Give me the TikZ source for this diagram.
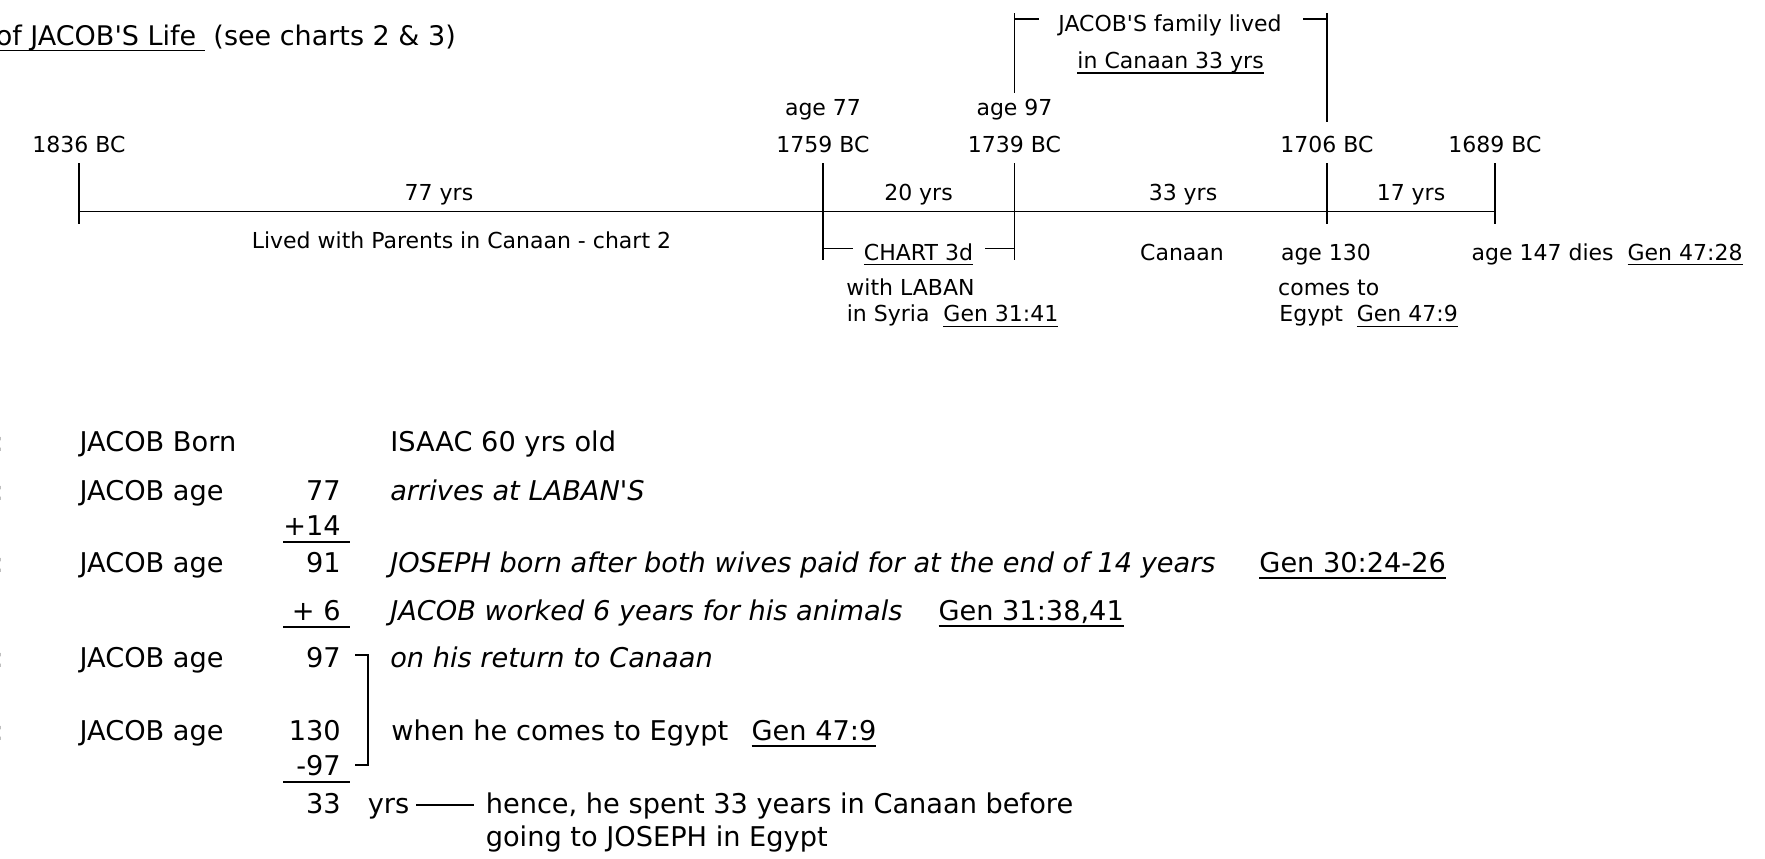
\documentclass[tikz,border=0pt]{standalone}
\usepackage{fontspec}
\setmainfont{DejaVu Sans}
\usetikzlibrary{positioning}
\newsavebox\ulbox
\newcommand\ul[1]{\sbox\ulbox{#1}\rlap{\rule[-0.24em]{\wd\ulbox}{0.06em}}\usebox\ulbox}
\newcommand\q{\textquotesingle}

\begin{document}
\begin{tikzpicture}[x=0.5pt,y=-0.5pt,line width=0.8pt,
  tl/.style={inner sep=0pt,anchor=base,font=\fontsize{11}{13}\selectfont},
  tlw/.style={tl,anchor=base west},
  txt/.style={inner sep=0pt,anchor=base west,font=\fontsize{13.6}{16}\selectfont},
  it/.style={txt,font=\fontsize{13.6}{16}\selectfont\itshape},
  num/.style={txt,anchor=base east}]
\useasboundingbox (0,0) rectangle (1765,858);

\node[txt,font=\fontsize{13.5}{16}\selectfont] (title) at (-5,45) {\ul{of JACOB\q S Life\ } (see charts 2 \& 3)};

\foreach \n/\x in {a/79,b/823,c/1014.5,d/1327,e/1495} \coordinate (\n) at (\x,211.6);
\draw (a) -- (e);
\foreach \n in {a,d,e} \draw (\n) ++(0,-48.6) -- ++(0,61);
\foreach \n in {b,c} \draw (\n) ++(0,-48.6) -- ++(0,97);
\foreach \n/\x/\t in {a/79/1836,b/823/1759,c/1014.5/1739,d/1327/1706,e/1495/1689}
  \node[tl] (bc\n) at (\x,152.7) {\t\ BC};
\node[tl] (age77) at (823,115) {age 77};
\node[tl] (age97) at (1014.5,115) {age 97};
\foreach \x/\t in {439/77,918.5/20,1183/33,1411/17}
  \node[tl] (span\t) at (\x,200) {\t\ yrs};

\node[tlw] (parents) at (251,248) {Lived with Parents in Canaan - chart 2};
\node[tl] (chart) at (918.5,260) {\ul{CHART 3d}};
\draw (b) ++(0,37) -- +(29.6,0);
\draw (c) ++(0,37) -- +(-29.9,0);
\node[tl] (laban) at (910.5,295) {with LABAN};
\node[tlw] (syria) at (846,321.7) {in Syria\ \ \ul{Gen 31:41}};
\node[tl] (canaan) at (1182,260) {Canaan};
\node[tl] (age130) at (1326,260) {age 130};
\node[tl] (comes) at (1328.7,295) {comes to};
\node[tlw] (egypt) at (1278.6,321.7) {Egypt\ \ \ul{Gen 47:9}};
\node[tlw] (dies) at (1470.8,260) {age 147 dies\ \ \ul{Gen 47:28}};

\node[tl] (family) at (1170,31.7) {JACOB\q S family lived};
\node[tl] (lived33) at (1170.6,68.3) {\ul{in Canaan 33 yrs}};
\draw (c |- 0,13) -- (c |- 0,93) (c |- 0,19) -- +(24.5,0);
\draw (d |- 0,13) -- (d |- 0,122) (d |- 0,19) -- +(-24,0);

\foreach \y [count=\i] in {451.7,500,572,667,740} \node[txt] (colon\i) at (-6.5,\y) {:};
\node[txt] (born) at (78.8,451.7) {JACOB Born};
\foreach \y/\n [count=\i] in {500/77,572/91,667/97,740/130} {
  \node[txt] (jacob\i) at (78.8,\y) {JACOB age};
  \node[num] (n\n) at (341.5,\y) {\n};
}
\node[num] (p14) at (341.5,535) {+14};
\node[num] (p6) at (341.5,620) {+ 6};
\node[num] (m97) at (341.5,775) {-97};
\node[num] (n33) at (341.5,813) {33};
\foreach \n in {p14,p6,m97} \draw ([shift={(8,7)}]\n.base east) -- +(-67,0);
\draw ([shift={(13.5,-12)}]n97.base east) -- ++(13,0) |- ([shift={(13.5,-10)}]m97.base east);

\node[txt] (isaac) at (389.5,451.7) {ISAAC 60 yrs old};
\node[it] (arrives) at (389.5,500) {arrives at LABAN\q S};
\node[it] (joseph) at (389.5,572) {JOSEPH born after both wives paid for at the end of 14 years};
\node[txt] (g3024) at (1258.6,572) {\ul{Gen 30:24-26}};
\node[it] (worked) at (389.5,620) {JACOB worked 6 years for his animals};
\node[txt] (g3138) at (937.7,620) {\ul{Gen 31:38,41}};
\node[it] (return) at (389.5,667) {on his return to Canaan};
\node[txt] (when) at (390.6,740) {when he comes to Egypt};
\node[txt] (g479) at (750.8,740) {\ul{Gen 47:9}};
\node[txt] (yrs) at (367,813) {yrs};
\node[txt] (hence) at (485,813) {hence, he spent 33 years in Canaan before};
\node[txt] (going) at (485,846) {going to JOSEPH in Egypt};
\draw ([shift={(6,-8)}]yrs.base east) -- ([shift={(-11,-8)}]hence.base west);
\end{tikzpicture}
\end{document}
